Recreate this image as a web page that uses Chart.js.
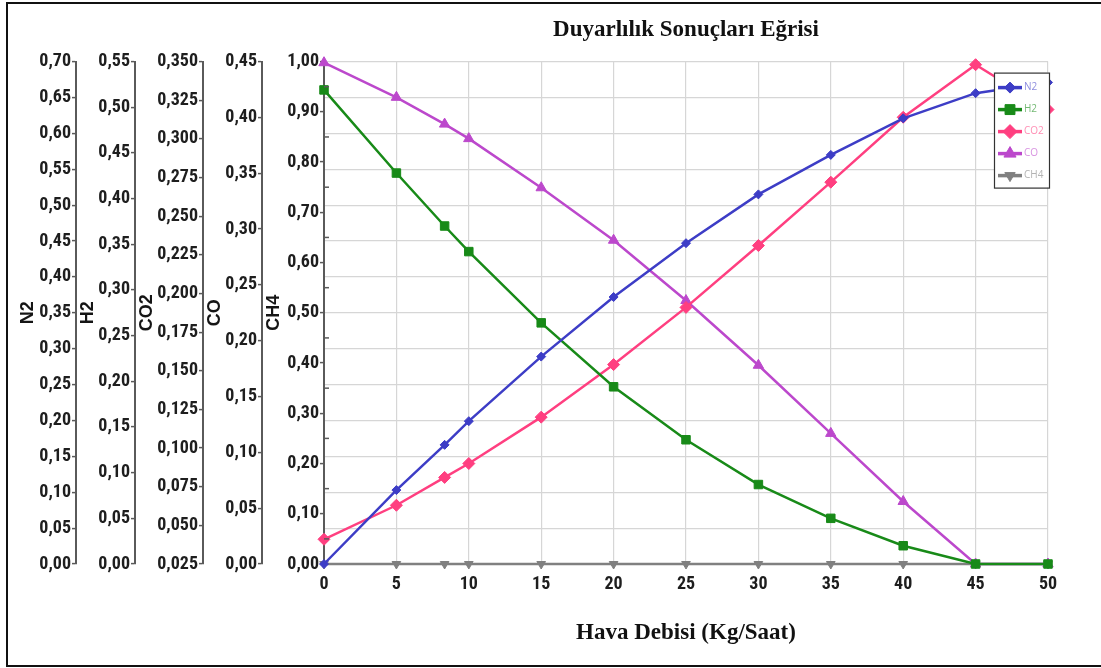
<!DOCTYPE html>
<html>
<head>
<meta charset="utf-8">
<script src="https://cdn.jsdelivr.net/npm/chart.js@4.4.1/dist/chart.umd.min.js"></script>
<style>
html,body{margin:0;padding:0;background:#fff;overflow:hidden;}
#wrap{position:relative;width:1101px;height:668px;overflow:hidden;}
#frame{position:absolute;left:6px;top:2px;width:1300px;height:661px;border:2px solid #111;border-right:none;pointer-events:none;}
canvas{position:absolute;left:0;top:0;}
</style>
</head>
<body>
<div id="wrap"><div id="frame"></div><canvas id="c" width="1101" height="668"></canvas></div>
<script>
// ---- data ----
const xValues = [0, 5, 8.33, 10, 15, 20, 25, 30, 35, 40, 45, 50];
const n2  = [0, 0.103, 0.166, 0.199, 0.289, 0.372, 0.447, 0.515, 0.570, 0.621, 0.656, 0.671];
const h2  = [0.519, 0.428, 0.370, 0.342, 0.264, 0.194, 0.136, 0.087, 0.050, 0.020, 0, 0];
const co2 = [0.041, 0.063, 0.081, 0.090, 0.120, 0.154, 0.191, 0.231, 0.272, 0.314, 0.348, 0.319];
const co  = [0.449, 0.418, 0.394, 0.381, 0.337, 0.290, 0.236, 0.178, 0.117, 0.056, 0, 0];
const ch4 = [0, 0, 0, 0, 0, 0, 0, 0, 0, 0, 0, 0];

const seriesNames = ['N2', 'H2', 'CO2', 'CO', 'CH4'];
const chartTitle = 'Duyarlılık Sonuçları Eğrisi';
const xTitle = 'Hava Debisi (Kg/Saat)';

// axis ranges [min, max, step, decimals]
const n2Range  = [0, 0.70, 0.05, 2];
const h2Range  = [0, 0.55, 0.05, 2];
const co2Range = [0.025, 0.35, 0.025, 3];
const coRange  = [0, 0.45, 0.05, 2];
const ch4Range = [0, 1.00, 0.10, 2];
const xRange   = [0, 50, 5];

const pts = a => a.map((v, i) => ({x: xValues[i], y: v}));
const fmt = (v, d) => v.toFixed(d).replace('.', ',');

// pick a narrow font if one is installed
function pickNarrow() {
  const c = document.createElement('canvas').getContext('2d');
  const t = '0,70 0,350 CH4';
  c.font = 'bold 40px monospace';
  const base = c.measureText(t).width;
  const cands = ['Liberation Sans Narrow', 'Roboto Condensed', 'Arial Narrow', 'Open Sans Condensed', 'Noto Sans Condensed', 'DejaVu Sans Condensed'];
  for (const f of cands) {
    c.font = "bold 40px '" + f + "', monospace";
    const w = c.measureText(t).width;
    if (Math.abs(w - base) > 0.5) return {family: "'" + f + "'", w: w};
  }
  return null;
}
const narrow = pickNarrow();
let tickFont;
if (narrow && narrow.family.indexOf('DejaVu') < 0) {
  tickFont = {family: narrow.family + ",sans-serif", size: 18, weight: 'bold'};
} else {
  tickFont = {family: "'Liberation Sans',sans-serif", size: 16, weight: 'bold'};
}
const axTitleFont = {family: "'Liberation Sans','DejaVu Sans',sans-serif", size: 18, weight: 'bold'};
const serifFont = {family: "'Liberation Serif','DejaVu Serif',serif", size: 23, weight: 'bold'};

function yAxis(name, range, width, weight, gridOn) {
  return {
    type: 'linear', position: 'left', min: range[0], max: range[1], weight: weight,
    ticks: {stepSize: range[2], font: tickFont, color: '#1e1e1e', padding: 1, autoSkip: false,
            callback: v => fmt(v, range[3])},
    grid: {drawOnChartArea: gridOn, color: '#d6d6d6', tickColor: '#5a5a5a', tickLength: 4, lineWidth: 1.2, tickWidth: 1.5},
    border: {display: true, color: '#5a5a5a', width: 2},
    title: {display: true, text: name, font: axTitleFont, color: '#151515', padding: {top: 1, bottom: 0}},
    afterFit: s => { s.width = width; }
  };
}

function mk(label, data, axis, color, style, radius, rot) {
  return {
    label, data: pts(data), yAxisID: axis,
    borderColor: color, backgroundColor: color, pointBackgroundColor: color, pointBorderColor: color,
    borderWidth: 2.5, pointStyle: style, pointRadius: radius, pointRotation: rot || 0,
    pointBorderWidth: 1, tension: 0, fill: false, clip: false
  };
}

const minorTicks = {
  id: 'minorTicks',
  afterDraw(chart) {
    const s = chart.scales.yCH4, ctx = chart.ctx;
    ctx.save();
    ctx.strokeStyle = '#5a5a5a'; ctx.lineWidth = 1.5;
    for (let k = 0; k < 10; k++) {
      const y = s.getPixelForValue(ch4Range[0] + ch4Range[2] * (k + 0.5));
      ctx.beginPath(); ctx.moveTo(s.right, y); ctx.lineTo(s.right + 5, y); ctx.stroke();
    }
    ctx.restore();
  }
};

const boxLegend = {
  id: 'boxLegend',
  afterDraw(chart) {
    const ctx = chart.ctx, a = chart.chartArea;
    const w = 55, h = 115, x0 = a.right - w + 1, y0 = a.top + 11;
    ctx.save();
    ctx.fillStyle = '#fff'; ctx.fillRect(x0, y0, w, h);
    ctx.strokeStyle = '#333'; ctx.lineWidth = 1.2; ctx.strokeRect(x0 + 0.5, y0 + 0.5, w, h);
    ctx.font = "10px 'Open Sans','DejaVu Sans',sans-serif";
    ctx.textBaseline = 'middle';
    chart.data.datasets.forEach((ds, i) => {
      const y = y0 + 15 + i * 22;
      ctx.strokeStyle = ds.borderColor; ctx.lineWidth = 3.5;
      ctx.beginPath(); ctx.moveTo(x0 + 4, y); ctx.lineTo(x0 + 28, y); ctx.stroke();
      ctx.fillStyle = ds.borderColor; ctx.lineWidth = 1;
      Chart.helpers.drawPoint(ctx, {pointStyle: ds.pointStyle, radius: ds.pointRadius + 1, rotation: ds.pointRotation, borderWidth: 1}, x0 + 16, y);
      ctx.fillStyle = ds.borderColor;
      ctx.globalAlpha = 0.6;
      ctx.fillText(ds.label, x0 + 30, y);
      ctx.globalAlpha = 1;
    });
    ctx.restore();
  }
};

new Chart(document.getElementById('c'), {
  type: 'line',
  data: {
    datasets: [
      mk(seriesNames[0], n2, 'yN2', '#3d3dc6', 'rectRot', 4.5),
      mk(seriesNames[1], h2, 'yH2', '#188a18', 'rect', 6),
      mk(seriesNames[2], co2, 'yCO2', '#ff3f80', 'rectRot', 6),
      mk(seriesNames[3], co, 'yCO', '#bc48cc', 'triangle', 6),
      mk(seriesNames[4], ch4, 'yCH4', '#808080', 'triangle', 5, 180)
    ]
  },
  options: {
    responsive: false,
    animation: false,
    layout: {padding: {left: 16, right: 53, top: 8, bottom: 0}},
    plugins: {
      legend: {display: false},
      tooltip: {enabled: false},
      title: {display: true, text: chartTitle, font: serifFont, color: '#111', fullSize: false,
              padding: {top: 8, bottom: 18}}
    },
    scales: {
      x: {
        type: 'linear', position: 'bottom', min: xRange[0], max: xRange[1],
        ticks: {stepSize: xRange[2], font: tickFont, color: '#1e1e1e', padding: 10, autoSkip: false},
        grid: {color: '#d6d6d6', drawTicks: false, lineWidth: 1.2},
        border: {display: true, color: '#5a5a5a', width: 2},
        title: {display: true, text: xTitle, font: serifFont, color: '#111', padding: {top: 0, bottom: 21}},
        afterFit: s => { s.height = 104; }
      },
      yN2: yAxis(seriesNames[0], n2Range, 60, 5, true),
      yH2: yAxis(seriesNames[1], h2Range, 59, 4, false),
      yCO2: yAxis(seriesNames[2], co2Range, 68, 3, false),
      yCO: yAxis(seriesNames[3], coRange, 59, 2, false),
      yCH4: yAxis(seriesNames[4], ch4Range, 62, 1, false)
    }
  },
  plugins: [minorTicks, boxLegend]
});
</script>
</body>
</html>
